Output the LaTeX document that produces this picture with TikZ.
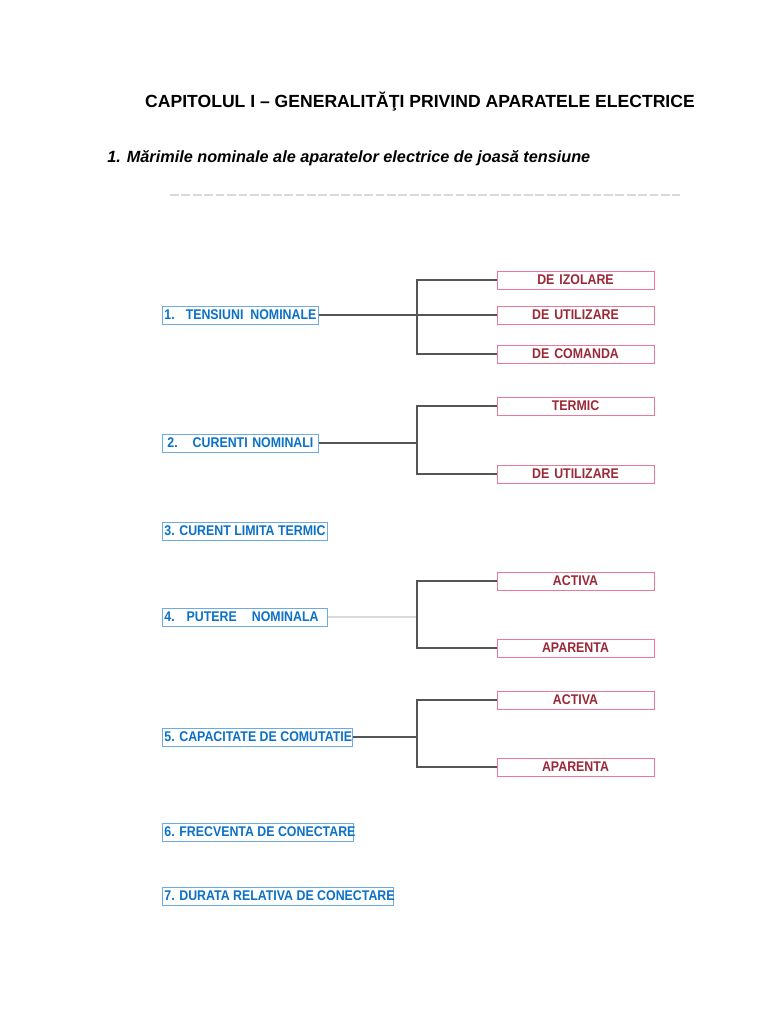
\documentclass[tikz,border=0pt]{standalone}
\usepackage{fontspec}
\setmainfont{Liberation Sans}
\newfontfamily\boxfont[FakeStretch=0.88]{Liberation Sans}
\usetikzlibrary{positioning}
\definecolor{capblue}{RGB}{10,112,200}
\definecolor{capedge}{RGB}{110,170,230}
\definecolor{subred}{RGB}{155,40,55}
\definecolor{subedge}{RGB}{235,120,150}
\definecolor{wire}{RGB}{85,85,85}

\begin{document}
\begin{tikzpicture}[x=0.02cm,y=-0.02cm]
        \tikzstyle{mainbox}=[draw=capedge,line width=0.5pt,anchor=west,inner xsep=0.04cm,inner ysep=0pt,minimum height=0.36cm,text=capblue,font=\boxfont\fontsize{8}{9}\selectfont\bfseries]
        \tikzstyle{subbox}=[draw=subedge,line width=0.5pt,minimum width=3.14cm,minimum height=0.36cm,inner ysep=0pt,text=subred,font=\boxfont\fontsize{8}{9}\selectfont\bfseries]
        \tikzstyle{link}=[draw=wire,line width=0.6pt]
        \useasboundingbox (0,0) rectangle (768,1024);
        \node[font=\fontsize{10}{12}\selectfont\bfseries] (titlu) at (420,102) {CAPITOLUL I – GENERALITĂŢI PRIVIND APARATELE ELECTRICE};
        \node[font=\fontsize{9.25}{11}\selectfont\bfseries\itshape,anchor=west,inner sep=0pt] (sub) at (107,158) {1. Mărimile nominale ale aparatelor electrice de joasă tensiune};
        \draw[black!15,line width=1.2pt,dash pattern=on 5pt off 1.5pt] (170,195) -- (680,195);
        % marimi nominale
        \node[mainbox] (tens) at (162,315) {\makebox[3.04cm][s]{1.\hspace{0.22cm}TENSIUNI\hfill NOMINALE}};
        \node[mainbox] (cur) at (162,443) {\makebox[3.04cm][s]{\hspace{0.06cm}2.\hspace{0.3cm}CURENTI\hfill NOMINALI\hspace{0.06cm}}};
        \node[mainbox] (clt) at (162,531) {\makebox[3.22cm][l]{3. CURENT LIMITA TERMIC}};
        \node[mainbox] (put) at (162,617) {\makebox[3.22cm][l]{4.\hspace{0.24cm}PUTERE\hspace{0.3cm}NOMINALA}};
        \node[mainbox] (cap) at (162,737) {\makebox[3.72cm][l]{5. CAPACITATE DE COMUTATIE}};
        \node[mainbox] (frec) at (162,832) {\makebox[3.74cm][l]{6. FRECVENTA DE CONECTARE}};
        \node[mainbox] (dur) at (162,896) {\makebox[4.54cm][l]{7. DURATA RELATIVA DE CONECTARE}};
        % ramuri
        \node[subbox] (izol) at (575.5,280) {DE\hspace{0.1cm}IZOLARE};
        \node[subbox] (util) at (575.5,315) {DE\hspace{0.1cm}UTILIZARE};
        \node[subbox] (coma) at (575.5,354) {DE\hspace{0.1cm}COMANDA};
        \node[subbox] (term) at (575.5,406) {TERMIC};
        \node[subbox] (utilc) at (575.5,474) {DE\hspace{0.1cm}UTILIZARE};
        \node[subbox] (actp) at (575.5,581) {ACTIVA};
        \node[subbox] (apap) at (575.5,648) {APARENTA};
        \node[subbox] (actc) at (575.5,700) {ACTIVA};
        \node[subbox] (apac) at (575.5,767) {APARENTA};
        \coordinate (b1) at (417,315);
        \coordinate (b2) at (417,443);
        \coordinate (b4) at (417,617);
        \coordinate (b5) at (417,737);
        \draw[link] (tens) -- (util);
        \draw[link] (izol.west) -| (b1) |- (coma.west);
        \draw[link] (cur) -- (b2);
        \draw[link] (term.west) -| (b2) |- (utilc.west);
        \draw[black!15,line width=0.6pt] (put) -- (b4);
        \draw[link] (actp.west) -| (b4) |- (apap.west);
        \draw[link] (cap) -- (b5);
        \draw[link] (actc.west) -| (b5) |- (apac.west);
\end{tikzpicture}
\end{document}
